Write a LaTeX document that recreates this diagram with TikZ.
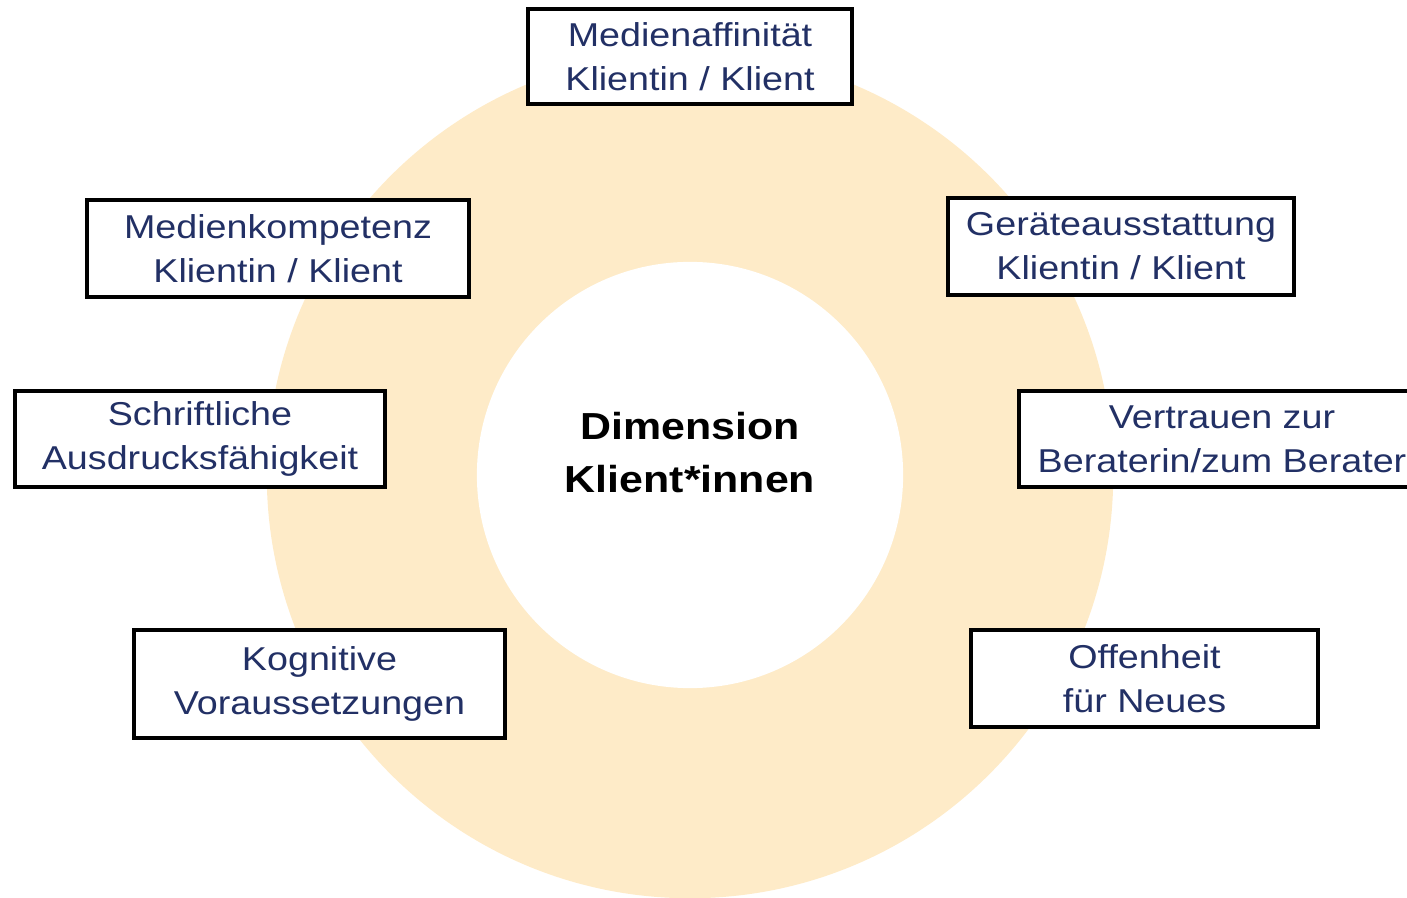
\documentclass[tikz,border=0pt]{standalone}
\usepackage{fontspec}
\setmainfont{Liberation Sans}
\newfontfamily\wideface[FakeStretch=1.14]{Liberation Sans}
\definecolor{ringfill}{HTML}{FEEBC8}
\definecolor{navytext}{HTML}{223065}
\begin{document}
\begin{tikzpicture}[
  x=0.01cm, y=-0.01cm,
  factor/.style={draw, fill=white, line width=1pt, inner sep=0pt, align=center,
    text=navytext, font=\wideface\fontsize{9.4}{12.5}\selectfont},
  hub/.style={align=center, font=\wideface\bfseries\fontsize{10.7}{15.1}\selectfont}
]
  \useasboundingbox (0,0) rectangle (1407,898);
  % ring
  \fill[ringfill] (690,475) circle[radius=4.23cm];
  \fill[white] (690,475) circle[radius=2.13cm];
  \node[hub] (hub) at (690,453) {Dimension\\Klient*innen};

  \node[factor, minimum width=3.24cm, minimum height=0.95cm] (affinity) at (690,56.5) {Medienaffinität\\Klientin / Klient};
  \node[factor, minimum width=3.82cm, minimum height=0.97cm] (competence) at (278,248.5) {Medienkompetenz\\Klientin / Klient};
  \node[factor, minimum width=3.46cm, minimum height=0.97cm] (devices) at (1121,246.5) {Geräteausstattung\\Klientin / Klient};
  \node[factor, minimum width=3.70cm, minimum height=0.96cm] (writing) at (200,439) {Schriftliche\\Ausdrucksfähigkeit};
  \node[factor, minimum width=4.06cm, minimum height=0.96cm] (trust) at (1222,439) {Vertrauen zur\\Beraterin/zum Berater};
  \node[factor, minimum width=3.71cm, minimum height=1.08cm] (cognition) at (319.5,684) {Kognitive\\Voraussetzungen};
  \node[factor, minimum width=3.47cm, minimum height=0.97cm] (openness) at (1144.5,678.5) {Offenheit\\für Neues};
\end{tikzpicture}
\end{document}
